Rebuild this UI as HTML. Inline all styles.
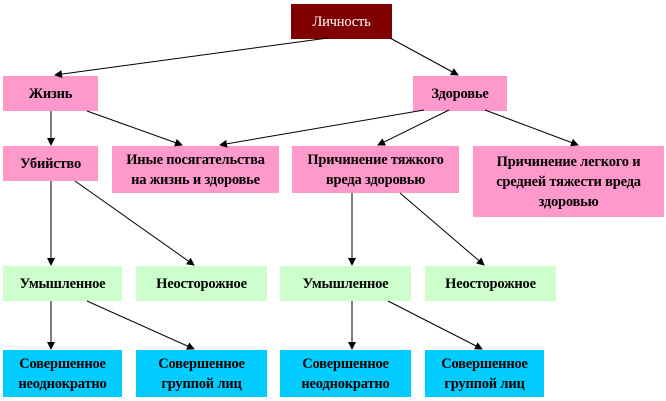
<!DOCTYPE html>
<html><head><meta charset="utf-8"><style>
body{margin:0;width:666px;height:401px;background:#fff;position:relative;overflow:hidden;font-family:"Liberation Serif","DejaVu Serif",serif}
.b{position:absolute;display:flex;align-items:center;justify-content:center;text-align:center;font-weight:bold;font-size:14.5px;line-height:20px;color:#000;box-sizing:border-box;padding:0;white-space:nowrap;letter-spacing:-0.2px}
.p{background:#ff99cc}.g{background:#ccffcc}.c{background:#00ccff}
svg{position:absolute;left:0;top:0}
</style></head><body>
<div class="b" style="left:291px;top:4px;width:101px;height:35px;background:#800000;color:#fff;font-weight:normal">Личность</div>
<div class="b p" style="left:3px;top:76px;width:95px;height:35px">Жизнь</div>
<div class="b p" style="left:413px;top:76px;width:94px;height:35px">Здоровье</div>
<div class="b p" style="left:3px;top:146px;width:95px;height:35px">Убийство</div>
<div class="b p" style="left:112px;top:146px;width:167px;height:47px">Иные посягательства<br>на жизнь и здоровье</div>
<div class="b p" style="left:292px;top:146px;width:167px;height:47px">Причинение тяжкого<br>вреда здоровью</div>
<div class="b p" style="left:473px;top:146px;width:191px;height:71px">Причинение легкого и<br>средней тяжести вреда<br>здоровью</div>
<div class="b g" style="left:3px;top:266px;width:119px;height:35px">Умышленное</div>
<div class="b g" style="left:136px;top:266px;width:131px;height:35px">Неосторожное</div>
<div class="b g" style="left:280px;top:266px;width:131px;height:35px">Умышленное</div>
<div class="b g" style="left:425px;top:266px;width:131px;height:35px">Неосторожное</div>
<div class="b c" style="left:3px;top:350px;width:119px;height:47px">Совершенное<br>неоднократно</div>
<div class="b c" style="left:136px;top:350px;width:131px;height:47px">Совершенное<br>группой лиц</div>
<div class="b c" style="left:280px;top:350px;width:131px;height:47px">Совершенное<br>неоднократно</div>
<div class="b c" style="left:425px;top:350px;width:119px;height:47px">Совершенное<br>группой лиц</div>
<svg width="666" height="401"><defs><marker id="a" markerWidth="8" markerHeight="8" refX="7" refY="4" orient="auto" markerUnits="userSpaceOnUse"><path d="M0,0L8,4L0,8z" fill="#000"/></marker></defs>
<g stroke="#000" stroke-width="1" marker-end="url(#a)">
<line x1="328" y1="38" x2="55" y2="75"/>
<line x1="390" y1="38" x2="458" y2="75"/>
<line x1="51" y1="111" x2="51" y2="145"/>
<line x1="87" y1="111" x2="182" y2="145"/>
<line x1="424" y1="110" x2="220" y2="145"/>
<line x1="449" y1="110" x2="378" y2="145"/>
<line x1="485" y1="110" x2="578" y2="145"/>
<line x1="51" y1="181" x2="51" y2="265"/>
<line x1="75" y1="181" x2="194" y2="265"/>
<line x1="352" y1="193" x2="352" y2="265"/>
<line x1="400" y1="193" x2="484" y2="265"/>
<line x1="51" y1="301" x2="51" y2="349"/>
<line x1="87" y1="301" x2="194" y2="349"/>
<line x1="352" y1="301" x2="352" y2="349"/>
<line x1="388" y1="301" x2="482" y2="349"/>
</g></svg>
</body></html>
